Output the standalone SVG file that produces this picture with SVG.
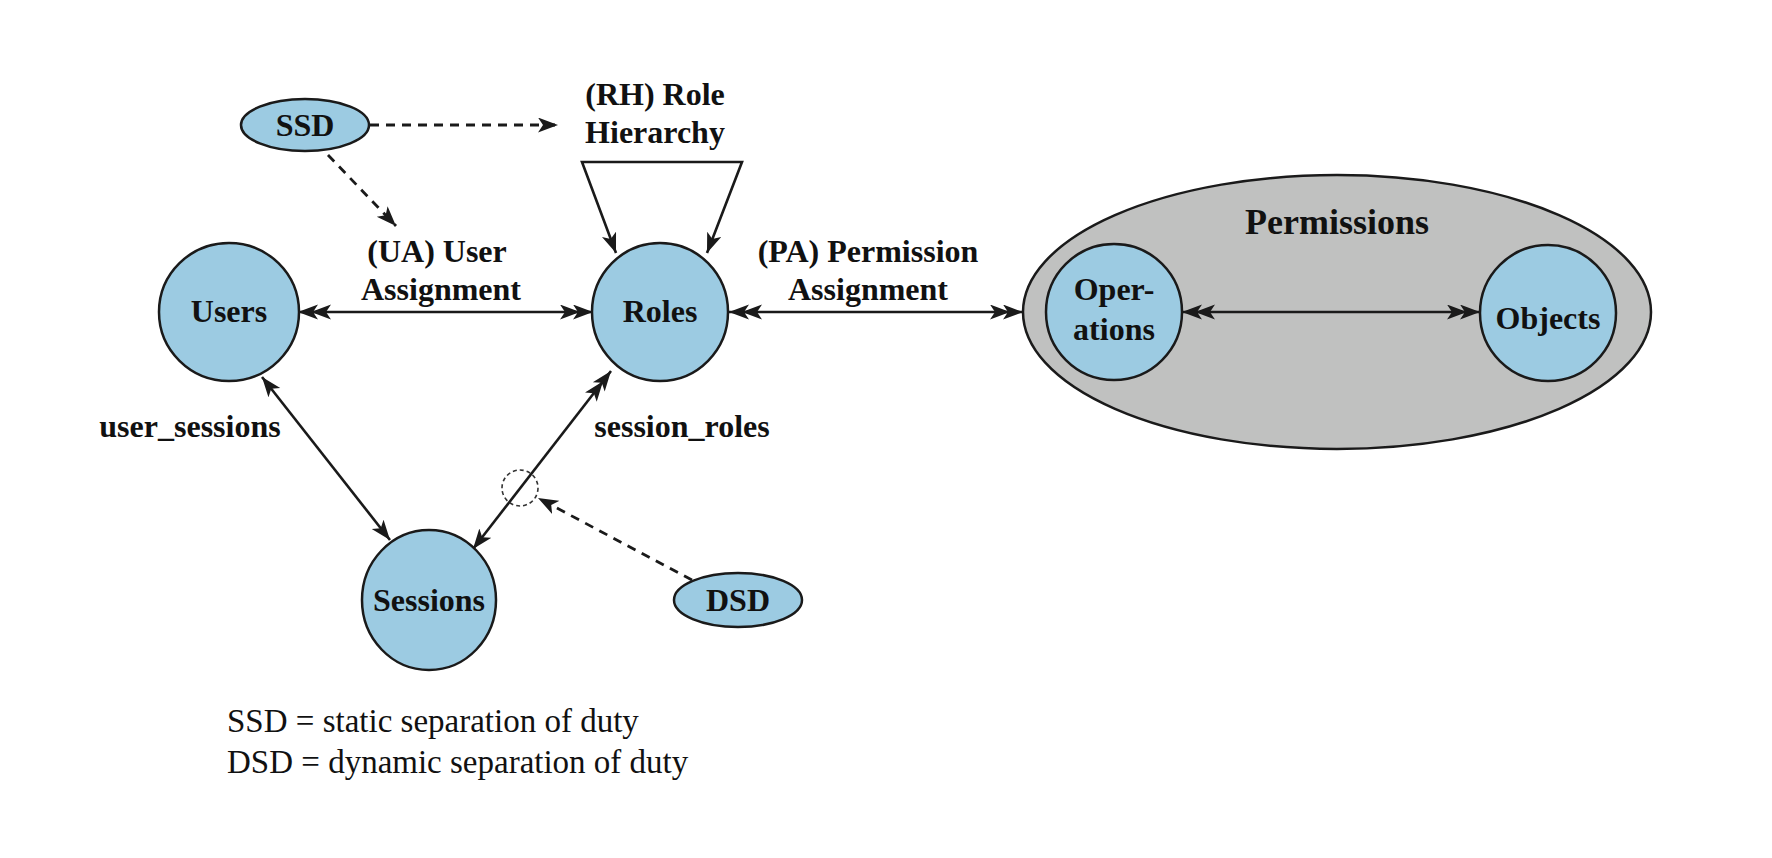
<svg xmlns="http://www.w3.org/2000/svg" width="1772" height="858" viewBox="0 0 1772 858">
<style>
.node{fill:#9ccbe2;stroke:#1a1a1a;stroke-width:2.5}
.perm{fill:#c0c1c0;stroke:#1a1a1a;stroke-width:2.5}
.lbl{font-family:"Liberation Serif","Times New Roman",serif;font-weight:bold;font-size:32px;fill:#111;text-anchor:middle}
.leg{font-family:"Liberation Serif","Times New Roman",serif;font-size:33px;fill:#111}
.ln{fill:none;stroke:#1a1a1a;stroke-width:2.6}
.dash{fill:none;stroke:#1a1a1a;stroke-width:2.8;stroke-dasharray:9 7}
.dot{fill:none;stroke:#333;stroke-width:1.6;stroke-dasharray:4 3}
</style>
<defs>
<marker id="a1" markerUnits="userSpaceOnUse" markerWidth="22" markerHeight="16" refX="20" refY="7.5" orient="auto-start-reverse" viewBox="0 0 22 16">
<path d="M0,0 L20,7.5 L0,15 L5,7.5 z" fill="#1a1a1a"/>
</marker>
<marker id="a2" markerUnits="userSpaceOnUse" markerWidth="35" markerHeight="16" refX="33" refY="7.5" orient="auto-start-reverse" viewBox="0 0 35 16">
<path d="M0,0 L20,7.5 L0,15 L5,7.5 z M13,0 L33,7.5 L13,15 L18,7.5 z" fill="#1a1a1a"/>
</marker>
</defs>
<rect width="1772" height="858" fill="#fff"/>

<g id="permissions">
<ellipse class="perm" cx="1337" cy="312" rx="314" ry="137"/>
<text class="lbl" x="1337" y="234" style="font-size:36px">Permissions</text>
</g>

<g id="connectors">
<line class="ln" x1="298" y1="312" x2="593" y2="312" marker-start="url(#a2)" marker-end="url(#a2)"/>
<line class="ln" x1="729" y1="312" x2="1023" y2="312" marker-start="url(#a2)" marker-end="url(#a2)"/>
<line class="ln" x1="1182" y1="312" x2="1480" y2="312" marker-start="url(#a2)" marker-end="url(#a2)"/>
<line class="ln" x1="262" y1="377" x2="390" y2="540" marker-start="url(#a1)" marker-end="url(#a1)"/>
<line class="ln" x1="611" y1="371" x2="473" y2="549" marker-start="url(#a2)" marker-end="url(#a1)"/>
<path class="ln" d="M616,253 L582,162 L742,162 L707,253" marker-start="url(#a1)" marker-end="url(#a1)"/>
<line class="dash" x1="370" y1="125" x2="558" y2="125" marker-end="url(#a1)"/>
<line class="dash" x1="328" y1="155" x2="396" y2="226" marker-end="url(#a1)"/>
<line class="dash" x1="692" y1="580" x2="538" y2="498" marker-end="url(#a1)"/>
<circle class="dot" cx="520" cy="488" r="18"/>
</g>

<g id="users">
<ellipse class="node" cx="229" cy="312" rx="70" ry="69"/>
<text class="lbl" x="229" y="322">Users</text>
</g>
<g id="roles">
<ellipse class="node" cx="660" cy="312" rx="68" ry="69"/>
<text class="lbl" x="660" y="322">Roles</text>
</g>
<g id="sessions">
<ellipse class="node" cx="429" cy="600" rx="67" ry="70"/>
<text class="lbl" x="429" y="611">Sessions</text>
</g>
<g id="ssd">
<ellipse class="node" cx="305" cy="125" rx="64" ry="26"/>
<text class="lbl" x="305" y="136">SSD</text>
</g>
<g id="dsd">
<ellipse class="node" cx="738" cy="600" rx="64" ry="27"/>
<text class="lbl" x="738" y="611">DSD</text>
</g>
<g id="operations">
<ellipse class="node" cx="1114" cy="312" rx="68" ry="68"/>
<text class="lbl" x="1114" y="300">Oper-</text>
<text class="lbl" x="1114" y="340">ations</text>
</g>
<g id="objects">
<ellipse class="node" cx="1548" cy="313" rx="68" ry="68"/>
<text class="lbl" x="1548" y="329">Objects</text>
</g>

<g id="labels">
<text class="lbl" x="437" y="262">(UA) User</text>
<text class="lbl" x="441" y="300">Assignment</text>
<text class="lbl" x="868" y="262">(PA) Permission</text>
<text class="lbl" x="868" y="300">Assignment</text>
<text class="lbl" x="655" y="105">(RH) Role</text>
<text class="lbl" x="655" y="143">Hierarchy</text>
<text class="lbl" x="190" y="437">user_sessions</text>
<text class="lbl" x="682" y="437">session_roles</text>
</g>

<g id="legend">
<text class="leg" x="227" y="732">SSD = static separation of duty</text>
<text class="leg" x="227" y="773">DSD = dynamic separation of duty</text>
</g>
</svg>
